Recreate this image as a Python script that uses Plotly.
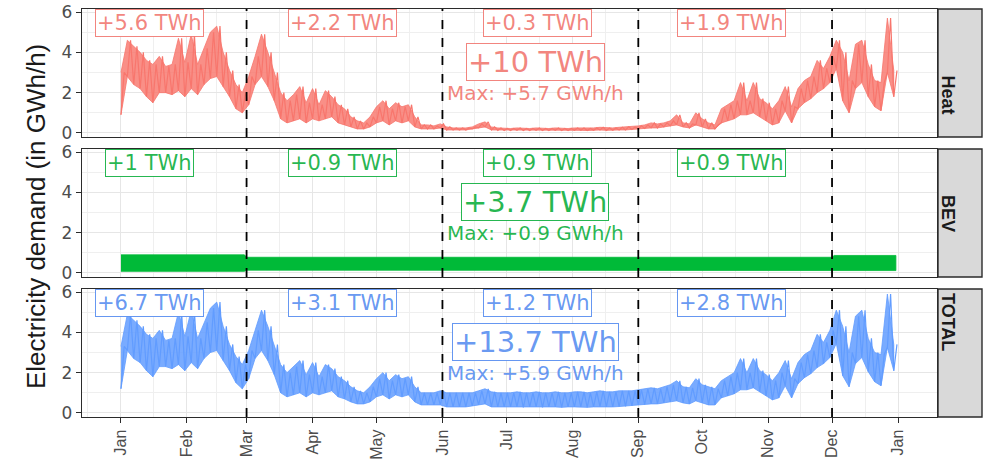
import plotly.graph_objects as go
import pandas as pd

# ---------------- data ----------------
YEAR_START = pd.Timestamp("2019-01-01")
sample_days = list(range(0, 364, 3))          # every third day of the year

heat_hi = [3.0, 4.6, 4.3, 4.0, 3.6, 3.4, 3.8, 3.3, 3.4, 4.7, 3.5, 4.9, 3.4, 4.2, 5.0, 5.3, 4.0, 3.1, 2.4, 2.0,
           2.8, 3.8, 4.9, 4.0, 3.0, 2.0, 1.6, 1.9, 2.3, 1.5,
           2.2, 1.4, 2.1, 1.8, 1.4, 1.2, 0.8, 0.6, 0.5, 0.8,
           1.3, 1.6, 1.2, 1.5, 1.3, 1.4, 0.8, 0.4, 0.4, 0.35,
           0.45, 0.3, 0.25, 0.25, 0.25, 0.3, 0.45, 0.55, 0.3, 0.25,
           0.22, 0.22, 0.25, 0.22, 0.22, 0.25, 0.22, 0.22, 0.25, 0.22,
           0.22, 0.25, 0.25, 0.22, 0.25, 0.28, 0.25, 0.25, 0.28, 0.3,
           0.3, 0.35, 0.4, 0.5, 0.45, 0.5, 0.6, 0.9, 0.5, 0.45,
           1.0, 0.7, 0.5, 0.4, 1.2, 1.4, 1.6, 2.5, 1.6, 2.5,
           1.7, 1.5, 1.2, 1.6, 2.3, 1.3, 2.2, 2.6, 2.8, 3.6,
           3.2, 3.8, 4.6, 4.0, 2.6, 4.4, 4.6, 3.4, 2.6, 2.5,
           5.7, 3.1]
heat_lo = [0.9, 2.8, 2.4, 2.2, 1.8, 1.5, 2.0, 2.0, 1.9, 2.1, 1.8, 2.2, 1.9, 2.4, 2.7, 2.8, 2.3, 1.8, 1.2, 1.0,
           1.4, 2.4, 2.8, 2.3, 1.6, 0.7, 0.5, 0.6, 0.7, 0.5,
           0.7, 0.6, 0.7, 0.8, 0.5, 0.4, 0.3, 0.2, 0.2, 0.3,
           0.5, 0.6, 0.4, 0.6, 0.5, 0.6, 0.3, 0.2, 0.2, 0.2,
           0.25, 0.15, 0.15, 0.15, 0.15, 0.2, 0.25, 0.3, 0.15, 0.13,
           0.12, 0.12, 0.13, 0.12, 0.12, 0.13, 0.12, 0.12, 0.13, 0.12,
           0.12, 0.13, 0.13, 0.12, 0.13, 0.15, 0.13, 0.13, 0.15, 0.15,
           0.17, 0.2, 0.22, 0.25, 0.25, 0.3, 0.35, 0.4, 0.3, 0.25,
           0.4, 0.3, 0.2, 0.2, 0.5, 0.6, 0.7, 0.9, 0.9, 1.0,
           0.8, 0.6, 0.4, 0.5, 1.1, 0.5, 1.2, 1.5, 1.7, 2.0,
           2.2, 2.5, 3.2, 1.6, 1.0, 2.2, 2.5, 1.8, 1.3, 1.1,
           3.0, 1.8]
total_hi = [3.3, 4.9, 4.6, 4.3, 3.9, 3.7, 4.1, 3.6, 3.7, 5.0, 3.8, 5.1, 3.7, 4.5, 5.2, 5.5, 4.3, 3.4, 2.8, 2.4,
            3.1, 4.1, 5.1, 4.3, 3.4, 2.4, 2.0, 2.3, 2.6, 1.9,
            2.5, 1.8, 2.4, 2.2, 1.8, 1.6, 1.3, 1.1, 1.0, 1.3,
            1.7, 2.0, 1.6, 1.9, 1.7, 1.8, 1.3, 1.0, 1.0, 1.0,
            1.1, 1.0, 1.0, 1.0, 1.0, 1.0, 1.1, 1.2, 1.05, 1.0,
            1.0, 1.0, 1.05, 1.0, 1.0, 1.05, 1.0, 1.0, 1.05, 1.0,
            1.0, 1.05, 1.05, 1.0, 1.05, 1.1, 1.05, 1.05, 1.1, 1.1,
            1.1, 1.15, 1.2, 1.25, 1.2, 1.3, 1.4, 1.6, 1.3, 1.25,
            1.7, 1.4, 1.3, 1.2, 1.6, 1.8, 2.0, 2.7, 2.0, 2.7,
            2.1, 1.9, 1.6, 2.0, 2.6, 1.7, 2.5, 2.9, 3.1, 3.9,
            3.5, 4.1, 5.1, 4.3, 3.0, 4.8, 5.1, 3.7, 3.0, 2.9,
            5.9, 3.4]
total_lo = [1.2, 3.1, 2.7, 2.5, 2.1, 1.8, 2.3, 2.3, 2.2, 2.4, 2.1, 2.5, 2.2, 2.7, 3.0, 3.1, 2.6, 2.1, 1.5, 1.2,
            1.7, 2.7, 3.1, 2.6, 1.9, 1.0, 0.8, 0.9, 1.0, 0.8,
            1.0, 0.9, 1.0, 1.1, 0.8, 0.7, 0.55, 0.45, 0.45, 0.55,
            0.8, 0.9, 0.7, 0.9, 0.8, 0.9, 0.55, 0.4, 0.4, 0.4,
            0.4, 0.3, 0.3, 0.3, 0.3, 0.35, 0.4, 0.45, 0.3, 0.3,
            0.3, 0.3, 0.3, 0.28, 0.3, 0.3, 0.28, 0.3, 0.3, 0.28,
            0.3, 0.3, 0.3, 0.28, 0.3, 0.32, 0.3, 0.3, 0.32, 0.33,
            0.35, 0.4, 0.42, 0.45, 0.45, 0.5, 0.55, 0.6, 0.5, 0.45,
            0.6, 0.5, 0.4, 0.4, 0.75, 0.85, 0.95, 1.15, 1.15, 1.25,
            1.05, 0.85, 0.65, 0.75, 1.35, 0.75, 1.45, 1.75, 1.95, 2.25,
            2.45, 2.75, 3.45, 1.85, 1.3, 2.45, 2.75, 2.05, 1.55, 1.35,
            3.25, 2.1]
bev_days = [0, 58, 59, 334, 335, 364]
bev_hi = [0.9, 0.9, 0.78, 0.78, 0.87, 0.87]
bev_lo = [0.08, 0.08, 0.14, 0.14, 0.12, 0.12]

panels = ["Heat", "BEV", "TOTAL"]
colors = {"Heat": "#F8766D", "BEV": "#00BA38", "TOTAL": "#619CFF"}
fill_colors = {"Heat": "rgba(248,118,109,0.82)", "BEV": "#00BA38", "TOTAL": "rgba(97,156,255,0.85)"}
text_colors = {"Heat": "rgba(240,112,104,0.85)", "BEV": "rgba(0,170,50,0.85)", "TOTAL": "rgba(85,140,240,0.9)"}
season_labels = {
    "Heat": ["+5.6 TWh", "+2.2 TWh", "+0.3 TWh", "+1.9 TWh"],
    "BEV": ["+1 TWh", "+0.9 TWh", "+0.9 TWh", "+0.9 TWh"],
    "TOTAL": ["+6.7 TWh", "+3.1 TWh", "+1.2 TWh", "+2.8 TWh"],
}
season_label_days = [13.5, 104, 195.5, 287]
total_labels = {"Heat": "+10 TWh", "BEV": "+3.7 TWh", "TOTAL": "+13.7 TWh"}
max_labels = {"Heat": "Max: +5.7 GWh/h", "BEV": "Max: +0.9 GWh/h", "TOTAL": "Max: +5.9 GWh/h"}
summary_day = 194.5
season_breaks = ["2019-03-01", "2019-06-01", "2019-09-01", "2019-12-01"]
month_ticks = pd.date_range("2019-01-01", "2020-01-01", freq="MS")
month_names = ["Jan", "Feb", "Mar", "Apr", "May", "Jun", "Jul", "Aug", "Sep", "Oct", "Nov", "Dec", "Jan"]

# ---------------- figure ----------------
def to_date(d):
    return YEAR_START + pd.Timedelta(days=d)

dates = [to_date(d) for d in sample_days]
fig = go.Figure()

domains = [[0.6863, 1.0], [0.3431, 0.6569], [0.0, 0.3137]]
envelopes = {"Heat": (heat_lo, heat_hi), "TOTAL": (total_lo, total_hi)}

for i, name in enumerate(panels):
    xa = "x" if i == 0 else f"x{i+1}"
    ya = "y" if i == 0 else f"y{i+1}"
    col = colors[name]
    if name == "BEV":
        bd = [to_date(d) for d in bev_days]
        fig.add_trace(go.Scatter(x=bd + bd[::-1], y=bev_hi + bev_lo[::-1], fill="toself",
                                 fillcolor=col, line=dict(color=col, width=0.8), mode="lines",
                                 xaxis=xa, yaxis=ya, showlegend=False, hoverinfo="skip"))
    else:
        lo, hi = envelopes[name]
        fig.add_trace(go.Scatter(x=dates + dates[::-1], y=hi + lo[::-1], fill="toself",
                                 fillcolor=fill_colors[name], line=dict(color=col, width=0.8), mode="lines",
                                 xaxis=xa, yaxis=ya, showlegend=False, hoverinfo="skip"))
        zx, zy = [], []
        for d, l, h in zip(sample_days, lo, hi):
            zx += [to_date(d), to_date(d + 1.5)]
            zy += [l, h]
        fig.add_trace(go.Scatter(x=zx, y=zy, mode="lines", line=dict(color=col, width=1.2),
                                 xaxis=xa, yaxis=ya, showlegend=False, hoverinfo="skip"))

xrange = [YEAR_START - pd.Timedelta(days=18.3), YEAR_START + pd.Timedelta(days=383.3)]
mid_months = [month_ticks[k] + (month_ticks[k + 1] - month_ticks[k]) / 2 for k in range(len(month_ticks) - 1)]
mid_months = [month_ticks[0] - pd.Timedelta(days=15.5)] + mid_months

grid_major = "#E6E6E6"
axis_line = "#2b2b2b"
label_font = "DejaVu Sans"

layout = dict(
    width=992, height=462,
    margin=dict(l=82, r=55, t=9, b=45, autoexpand=False),
    paper_bgcolor="white", plot_bgcolor="white",
    showlegend=False,
)
for i in range(3):
    xk = "xaxis" if i == 0 else f"xaxis{i+1}"
    yk = "yaxis" if i == 0 else f"yaxis{i+1}"
    ya = "y" if i == 0 else f"y{i+1}"
    xa = "x" if i == 0 else f"x{i+1}"
    bottom = i == 2
    layout[xk] = dict(
        type="date", range=xrange, anchor=ya, domain=[0, 1], automargin=False,
        tickmode="array", tickvals=list(month_ticks), ticktext=month_names,
        showticklabels=bottom, ticks="outside" if bottom else "", ticklen=5, tickwidth=1.3,
        tickcolor=axis_line, tickangle=-90,
        tickfont=dict(family="Liberation Sans, Arial", size=16, color="#4D4D4D"),
        showgrid=True, gridcolor=grid_major, gridwidth=1.1,
        minor=dict(tickmode="array", tickvals=mid_months, showgrid=True, gridcolor="#EFEFEF", gridwidth=0.6),
        showline=True, mirror=True, linecolor=axis_line, linewidth=1.4,
        zeroline=False, fixedrange=True,
    )
    if i > 0:
        layout[xk]["matches"] = "x"
    layout[yk] = dict(
        range=[-0.2, 6.15], anchor=xa, domain=domains[i], automargin=False,
        tickmode="array", tickvals=[0, 2, 4, 6], ticktext=["0", "2", "4", "6"],
        ticks="outside", ticklen=5, tickwidth=1.3, tickcolor=axis_line,
        tickfont=dict(family=label_font, size=17, color="#4D4D4D"),
        showgrid=True, gridcolor=grid_major, gridwidth=1.1,
        minor=dict(tickmode="array", tickvals=[1, 3, 5], showgrid=True, gridcolor="#EFEFEF", gridwidth=0.6),
        showline=True, mirror=True, linecolor=axis_line, linewidth=1.4,
        zeroline=False, fixedrange=True,
    )
fig.update_layout(**layout)

shapes = []
annotations = []
strip_x0 = (938 - 82) / 855
strip_x1 = (982 - 82) / 855
for i, name in enumerate(panels):
    xa = "x" if i == 0 else f"x{i+1}"
    ya = "y" if i == 0 else f"y{i+1}"
    for b in season_breaks:
        shapes.append(dict(type="line", xref=xa, yref=f"{ya} domain", x0=b, x1=b, y0=0, y1=1,
                           line=dict(color="black", width=1.8, dash="dash"), layer="above"))
    shapes.append(dict(type="rect", xref="paper", yref="paper", x0=strip_x0, x1=strip_x1,
                       y0=domains[i][0], y1=domains[i][1], fillcolor="#D9D9D9",
                       line=dict(color=axis_line, width=1.4)))
    annotations.append(dict(xref="paper", yref="paper", x=(strip_x0 + strip_x1) / 2,
                            y=(domains[i][0] + domains[i][1]) / 2, text=f"<b>{name}</b>", textangle=90,
                            showarrow=False, font=dict(family="Liberation Sans, Arial", size=18, color="#1A1A1A")))
    tc = text_colors[name]
    for lab, d in zip(season_labels[name], season_label_days):
        annotations.append(dict(xref=xa, yref=ya, x=to_date(d), y=5.47, text=lab, showarrow=False,
                                font=dict(family=label_font, size=21, color=tc),
                                bgcolor="white", bordercolor=tc, borderwidth=1, borderpad=1))
    annotations.append(dict(xref=xa, yref=ya, x=to_date(summary_day), y=3.5, text=total_labels[name],
                            showarrow=False, font=dict(family=label_font, size=29, color=tc),
                            bgcolor="white", bordercolor=tc, borderwidth=1, borderpad=1))
    annotations.append(dict(xref=xa, yref=ya, x=to_date(summary_day), y=2.0, text=max_labels[name],
                            showarrow=False, font=dict(family=label_font, size=20, color=tc)))

annotations.append(dict(xref="paper", yref="paper", x=(19 - 82) / 855, y=0.49,
                        text="Electricity demand (in GWh/h)", textangle=-90, showarrow=False,
                        font=dict(family="Liberation Sans, Arial", size=26, color="#1A1A1A")))

fig.update_layout(shapes=shapes, annotations=annotations)
fig.write_html("out.html", config={"displayModeBar": False},
               post_script="document.body.style.margin='0';document.body.style.overflow='hidden';")
